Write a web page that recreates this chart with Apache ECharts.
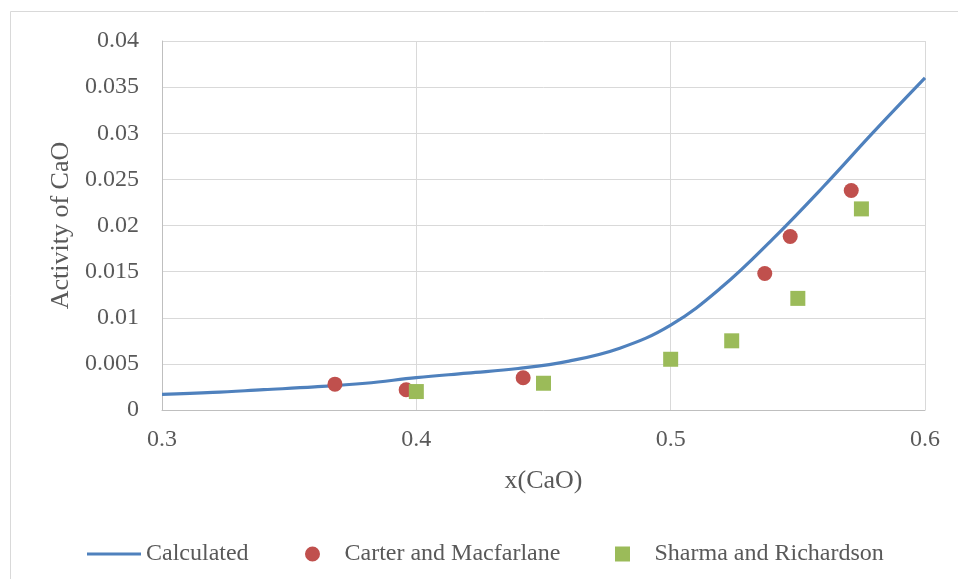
<!DOCTYPE html>
<html>
<head>
<meta charset="utf-8">
<script src="https://cdn.jsdelivr.net/npm/echarts@6/dist/echarts.min.js"></script>
<style>
html,body{margin:0;padding:0;background:#fff;}
#chart{width:958px;height:579px;}
</style>
</head>
<body>
<div id="chart"></div>
<script>
// Calculated curve
const calcX = [0.30, 0.32, 0.34, 0.36, 0.38, 0.40, 0.42, 0.44, 0.46, 0.48, 0.50, 0.52, 0.54, 0.56, 0.58, 0.60];
const calcY = [0.0017, 0.0019, 0.0022, 0.0025, 0.0029, 0.0035, 0.0040, 0.0045, 0.0053, 0.0067, 0.0092, 0.0133, 0.0185, 0.0242, 0.0302, 0.0360];
// Carter and Macfarlane
const carterX = [0.368, 0.396, 0.442, 0.537, 0.547, 0.571];
const carterY = [0.0028, 0.0022, 0.0035, 0.0148, 0.0188, 0.0238];
// Sharma and Richardson
const sharmaX = [0.400, 0.450, 0.500, 0.524, 0.550, 0.575];
const sharmaY = [0.0020, 0.0029, 0.0055, 0.0075, 0.0121, 0.0218];

const xTicks = {min: 0.3, max: 0.6, interval: 0.1};
const yTicks = {min: 0, max: 0.04, interval: 0.005};

const zip = (a, b) => a.map((v, i) => [v, b[i]]);
const txt = '#595959';
const font = 'Liberation Serif';
const legendText = {fontFamily: font, fontSize: 24, color: txt, lineHeight: 24};

const chart = echarts.init(document.getElementById('chart'), null, {renderer: 'canvas'});
chart.setOption({
  animation: false,
  backgroundColor: '#fff',
  textStyle: {fontFamily: font, color: txt},
  graphic: [{
    type: 'rect', shape: {x: 10.5, y: 11.5, width: 1000, height: 1000},
    style: {fill: 'none', stroke: '#D9D9D9', lineWidth: 1}, silent: true, z: -10
  }],
  grid: {left: 162, top: 41, width: 763, height: 369, containLabel: false},
  xAxis: {
    type: 'value', min: xTicks.min, max: xTicks.max, interval: xTicks.interval,
    name: 'x(CaO)', nameLocation: 'middle', nameGap: 58,
    nameTextStyle: {fontFamily: font, fontSize: 26, color: txt},
    axisLine: {show: true, lineStyle: {color: '#BFBFBF', width: 1}},
    axisTick: {show: false},
    splitLine: {show: true, lineStyle: {color: '#D9D9D9', width: 1}},
    axisLabel: {fontFamily: font, fontSize: 24, color: txt, margin: 18,
      formatter: v => String(Math.round(v * 10) / 10)}
  },
  yAxis: {
    type: 'value', min: yTicks.min, max: yTicks.max, interval: yTicks.interval,
    name: 'Activity of CaO', nameLocation: 'middle', nameGap: 88,
    nameTextStyle: {fontFamily: font, fontSize: 26, color: txt},
    axisLine: {show: true, lineStyle: {color: '#BFBFBF', width: 1}},
    axisTick: {show: false},
    splitLine: {show: true, lineStyle: {color: '#D9D9D9', width: 1}},
    axisLabel: {fontFamily: font, fontSize: 24, color: txt, margin: 23,
      formatter: v => String(Math.round(v * 1000) / 1000)}
  },
  legend: [
    {data: [{name: 'Calculated', icon: 'path://M0,0H54V3H0Z'}], left: 82, top: 537,
     itemWidth: 54, itemHeight: 15, symbolKeepAspect: true, itemGap: 0, textStyle: legendText},
    {data: [{name: 'Carter and Macfarlane', icon: 'path://M8,0A8,8,0,1,1,7.99,0Z'}], left: 300, top: 537,
     itemWidth: 54, itemHeight: 15, symbolKeepAspect: true, itemGap: 0, textStyle: legendText},
    {data: [{name: 'Sharma and Richardson', icon: 'path://M0,0H15V15H0Z'}], left: 610, top: 537,
     itemWidth: 54, itemHeight: 15, symbolKeepAspect: true, itemGap: 0, textStyle: legendText}
  ],
  series: [
    {name: 'Calculated', type: 'line', data: zip(calcX, calcY), smooth: 0.4, symbol: 'none', showSymbol: false,
     lineStyle: {color: '#4F81BD', width: 3.2}, itemStyle: {color: '#4F81BD'}, z: 3},
    {name: 'Carter and Macfarlane', type: 'scatter', data: zip(carterX, carterY), symbol: 'circle', symbolSize: 15,
     itemStyle: {color: '#C0504D', opacity: 1}, z: 4},
    {name: 'Sharma and Richardson', type: 'scatter', data: zip(sharmaX, sharmaY), symbol: 'rect', symbolSize: 15,
     itemStyle: {color: '#9BBB59', opacity: 1}, z: 5}
  ]
});
</script>
</body>
</html>
